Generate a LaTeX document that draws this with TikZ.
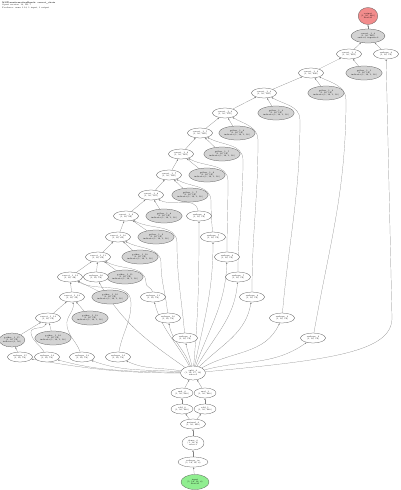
\documentclass[tikz,border=0pt]{standalone}
\usepackage{tikz}
\usepackage{xcolor}
\usetikzlibrary{positioning, arrows.meta, shapes.geometric, backgrounds}

\definecolor{paramgray}{HTML}{D3D3D3}
\definecolor{outputred}{HTML}{F28C8C}
\definecolor{inputgreen}{HTML}{90EE90}

\tikzset{
	op/.style={draw=black!70, line width=0.25pt, ellipse, fill=white, inner sep=0pt,
		minimum width=25pt, minimum height=10pt, align=center,
		font=\fontsize{2}{2.3}\selectfont},
	param/.style={op, fill=paramgray, minimum width=34pt, minimum height=14pt},
	flow/.style={draw=black!50, line width=0.2pt, -{Latex[length=1.8pt, width=1.3pt]}},
}

\begin{document}
\begin{tikzpicture}[x=1pt, y=1pt]
		\useasboundingbox (0,0) rectangle (400,-490);

		\node[anchor=north west, align=left, inner sep=0pt,
			font=\fontsize{2}{2.3}\selectfont] (title) at (2,-2)
			{\textbf{NNTransformationBench: concat\_chain}\\Opset version: 13, IR: 7\\Producer: onnx 1.14, 1 input, 1 output};

		\node[op, fill=outputred, minimum width=18pt, minimum height=17pt] (output)
			at (368,-16) {output\\(1, 16, 240)\\float32};
		\node[param] (concat-0) at (368,-36) {concat\_1\_0\\(1, 16, 240)\\axis=2, inputs=2};
		\node[op] (reshape-0) at (386,-54) {reshape\_0\\(1, 16, 16)};

		\node[op] (concat-1) at (349,-54) {concat\_1\_1\\(1, 16, 224)};
		\node[param] (gather-1) at (364,-73) {gather\_1\_1\\(1, 16, 16)\\indices=(1, 16, 1, 16)};
		\node[op] (concat-2) at (311,-73) {concat\_1\_2\\(1, 16, 208)};
		\node[param] (gather-2) at (326,-93) {gather\_1\_2\\(1, 16, 16)\\indices=(1, 16, 1, 16)};
		\node[op] (concat-3) at (264,-93) {concat\_1\_3\\(1, 16, 192)};
		\node[param] (gather-3) at (276,-113) {gather\_1\_3\\(1, 16, 16)\\indices=(1, 16, 1, 16)};
		\node[op] (concat-4) at (225,-113) {concat\_1\_4\\(1, 16, 176)};
		\node[param] (gather-4) at (237,-133) {gather\_1\_4\\(1, 16, 16)\\indices=(1, 16, 1, 16)};
		\node[op] (concat-5) at (200,-133) {concat\_1\_5\\(1, 16, 160)};
		\node[param] (gather-5) at (222,-154) {gather\_1\_5\\(1, 16, 16)\\indices=(1, 16, 1, 16)};
		\node[op] (concat-6) at (181,-154) {concat\_1\_6\\(1, 16, 144)};
		\node[param] (gather-6) at (207,-175) {gather\_1\_6\\(1, 16, 16)\\indices=(1, 16, 1, 16)};
		\node[op] (concat-7) at (169,-175) {concat\_1\_7\\(1, 16, 128)};
		\node[param] (gather-7) at (190,-195) {gather\_1\_7\\(1, 16, 16)\\indices=(1, 16, 1, 16)};
		\node[op] (concat-8) at (151,-195) {concat\_1\_8\\(1, 16, 112)};
		\node[param] (gather-8) at (164,-216) {gather\_1\_8\\(1, 16, 16)\\indices=(1, 16, 1, 16)};
		\node[op] (concat-9) at (126,-216) {concat\_1\_9\\(1, 16, 96)};
		\node[param] (gather-9) at (156,-237) {gather\_1\_9\\(1, 16, 16)\\indices=(1, 16, 1, 16)};
		\node[op] (concat-10) at (118,-237) {concat\_1\_10\\(1, 16, 80)};
		\node[param] (gather-10) at (140,-257) {gather\_1\_10\\(1, 16, 16)\\indices=(1, 16, 1, 16)};
		\node[op] (concat-11) at (98,-257) {concat\_1\_11\\(1, 16, 64)};
		\node[param] (gather-11) at (125,-277) {gather\_1\_11\\(1, 16, 16)\\indices=(1, 16, 1, 16)};
		\node[op] (concat-12) at (70,-277) {concat\_1\_12\\(1, 16, 48)};
		\node[param] (gather-12) at (110,-297) {gather\_1\_12\\(1, 16, 16)\\indices=(1, 16, 1, 16)};
		\node[op] (concat-13) at (72,-297) {concat\_1\_13\\(1, 16, 32)};
		\node[param] (gather-13) at (90,-318) {gather\_1\_13\\(1, 16, 16)\\indices=(1, 16, 1, 16)};
		\node[op] (concat-14) at (48,-318) {concat\_1\_14\\(1, 16, 16)};
		\node[param] (gather-14) at (53,-338) {gather\_1\_14\\(1, 16, 16)\\indices=(1, 16, 1, 16)};
		\node[param, minimum width=24pt] (concat-15) at (12,-340) {gather\_1\_15\\(1, 16, 16)\\indices=(1, 16)};

		\node[op] (reshape-2) at (313,-338) {reshape\_2\\(1, 16, 16)};
		\node[op] (reshape-3) at (282,-318) {reshape\_3\\(1, 16, 16)};
		\node[op] (reshape-4) at (252,-297) {reshape\_4\\(1, 16, 16)};
		\node[op] (reshape-5) at (238,-277) {reshape\_5\\(1, 16, 16)};
		\node[op] (reshape-6) at (227,-257) {reshape\_6\\(1, 16, 16)};
		\node[op] (reshape-7) at (213,-237) {reshape\_7\\(1, 16, 16)};
		\node[op] (reshape-8) at (199,-216) {reshape\_8\\(1, 16, 16)};
		\node[op] (reshape-9) at (185,-338) {reshape\_9\\(1, 16, 16)};
		\node[op] (reshape-10) at (168,-318) {reshape\_10\\(1, 16, 16)};
		\node[op] (reshape-11) at (153,-297) {reshape\_11\\(1, 16, 16)};
		\node[op] (reshape-16) at (96,-277) {reshape\_16\\(1, 16, 16)};
		\node[op] (reshape-12) at (118,-357) {reshape\_12\\(1, 16, 16)};
		\node[op] (reshape-13) at (82,-357) {reshape\_13\\(1, 16, 16)};
		\node[op] (reshape-14) at (47,-357) {reshape\_14\\(1, 16, 16)};
		\node[op] (reshape-15) at (20,-357) {reshape\_15\\(1, 16, 16)};

		\node[op, minimum height=14pt] (slice-0) at (193,-373) {split\_0\\(1, 16, 15, 16)\\axis=2};
		\node[op, minimum width=22pt] (mul-0) at (182,-393) {mul\_0\\(1, 16, 240)};
		\node[op, minimum width=22pt] (mul-1) at (205,-393) {mul\_1\\(1, 16, 240)};
		\node[op, minimum width=22pt] (add-0) at (182,-409) {add\_0\\(1, 16, 240)};
		\node[op, minimum width=22pt] (add-1) at (205,-409) {add\_1\\(1, 16, 240)};
		\node[op] (matmul-0) at (193,-424) {matmul\_0\\(1, 16, 240)};
		\node[op, minimum width=22pt, minimum height=14pt] (dense-0) at (193,-443) {dense\_0\\(1, 16, 8)\\relu=1};
		\node[op, minimum width=30pt] (reshape-in) at (193,-462) {reshape\_in\\(1, 16, 16, 8)};
		\node[op, fill=inputgreen, minimum width=28pt, minimum height=15pt] (input)
			at (195,-482) {input\\(1, 16, 16, 8)\\float32};

		\coordinate (lane-0) at (392,-318);
		\coordinate (lane-2) at (346,-100);
		\coordinate (lane-3) at (300,-120);
		\coordinate (lane-4) at (258,-140);
		\coordinate (lane-5) at (243,-160);
		\coordinate (lane-6) at (228,-181);
		\coordinate (lane-7) at (211,-201);
		\coordinate (lane-9) at (177,-243);
		\coordinate (lane-10) at (161,-263);
		\coordinate (lane-11) at (146,-283);
		\coordinate (lane-12) at (131,-303);
		\coordinate (lane-13) at (67,-326);
		\coordinate (lane-14) at (31,-333);

		\begin{scope}[on background layer]
		\draw[flow] (concat-0) -- (output);
		\draw[flow] (concat-1) -- (concat-0);
		\draw[flow] (reshape-0) -- (concat-0);

		\draw[flow] (concat-2) -- (concat-1);
		\draw[flow] (gather-1) -- (concat-1);
		\draw[flow] (concat-3) -- (concat-2);
		\draw[flow] (gather-2) -- (concat-2);
		\draw[flow] (concat-4) -- (concat-3);
		\draw[flow] (gather-3) -- (concat-3);
		\draw[flow] (concat-5) -- (concat-4);
		\draw[flow] (gather-4) -- (concat-4);
		\draw[flow] (concat-6) -- (concat-5);
		\draw[flow] (gather-5) -- (concat-5);
		\draw[flow] (concat-7) -- (concat-6);
		\draw[flow] (gather-6) -- (concat-6);
		\draw[flow] (concat-8) -- (concat-7);
		\draw[flow] (gather-7) -- (concat-7);
		\draw[flow] (concat-9) -- (concat-8);
		\draw[flow] (gather-8) -- (concat-8);
		\draw[flow] (concat-10) -- (concat-9);
		\draw[flow] (gather-9) -- (concat-9);
		\draw[flow] (concat-11) -- (concat-10);
		\draw[flow] (gather-10) -- (concat-10);
		\draw[flow] (concat-12) -- (concat-11);
		\draw[flow] (gather-11) -- (concat-11);
		\draw[flow] (concat-13) -- (concat-12);
		\draw[flow] (gather-12) -- (concat-12);
		\draw[flow] (concat-14) -- (concat-13);
		\draw[flow] (gather-13) -- (concat-13);
		\draw[flow] (concat-15) -- (concat-14);
		\draw[flow] (gather-14) -- (concat-14);

		\draw[flow] (reshape-2) to[out=80, in=-90] (lane-2) to[out=90, in=-25] (concat-2);
		\draw[flow] (reshape-3) to[out=85, in=-90] (lane-3) to[out=90, in=-30] (concat-3);
		\draw[flow] (reshape-4) to[out=90, in=-90] (lane-4) to[out=90, in=-30] (concat-4);
		\draw[flow] (reshape-5) to[out=90, in=-90] (lane-5) to[out=90, in=-30] (concat-5);
		\draw[flow] (reshape-6) to[out=90, in=-90] (lane-6) to[out=90, in=-30] (concat-6);
		\draw[flow] (reshape-7) to[out=95, in=-90] (lane-7) to[out=90, in=-30] (concat-7);
		\draw[flow] (reshape-8) to[out=100, in=-30] (concat-8);
		\draw[flow] (reshape-9) to[out=95, in=-90] (lane-9) to[out=90, in=-30] (concat-9);
		\draw[flow] (reshape-10) to[out=95, in=-90] (lane-10) to[out=90, in=-30] (concat-10);
		\draw[flow] (reshape-11) to[out=95, in=-90] (lane-11) to[out=90, in=-30] (concat-11);
		\draw[flow] (reshape-16) -- (concat-11);
		\draw[flow] (reshape-12) to[out=80, in=-90] (lane-12) to[out=90, in=-30] (concat-12);
		\draw[flow] (reshape-13) to[out=110, in=-80] (lane-13) to[out=100, in=-80] (concat-13);
		\draw[flow] (reshape-14) to[out=120, in=-80] (lane-14) to[out=100, in=-110] (concat-14);
		\draw[flow] (reshape-15) -- (concat-15);

		\draw[flow] (slice-0) .. controls (330,-360) and (392,-352) .. (lane-0) -- (reshape-0);
		\draw[flow] (slice-0) to[out=15, in=-145] (reshape-2);
		\draw[flow] (slice-0) to[out=30, in=-115] (reshape-3);
		\draw[flow] (slice-0) to[out=45, in=-100] (reshape-4);
		\draw[flow] (slice-0) to[out=60, in=-95] (reshape-5);
		\draw[flow] (slice-0) to[out=70, in=-92] (reshape-6);
		\draw[flow] (slice-0) to[out=78, in=-90] (reshape-7);
		\draw[flow] (slice-0) to[out=85, in=-90] (reshape-8);
		\draw[flow] (slice-0) to[out=100, in=-80] (reshape-9);
		\draw[flow] (slice-0) to[out=110, in=-80] (reshape-10);
		\draw[flow] (slice-0) to[out=118, in=-75] (reshape-11);
		\draw[flow] (slice-0) to[out=145, in=-60] (reshape-16);
		\draw[flow] (slice-0) to[out=170, in=-25] (reshape-12);
		\draw[flow] (slice-0) to[out=175, in=-20] (reshape-13);
		\draw[flow] (slice-0) to[out=178, in=-15] (reshape-14);
		\draw[flow] (slice-0) to[out=180, in=-10] (reshape-15);

		\draw[flow] (mul-0) -- (slice-0);
		\draw[flow] (mul-1) -- (slice-0);
		\draw[flow] (add-0) -- (mul-0);
		\draw[flow] (add-1) -- (mul-1);
		\draw[flow] (matmul-0) -- (add-0);
		\draw[flow] (matmul-0) -- (add-1);
		\draw[flow] (dense-0) -- (matmul-0);
		\draw[flow] (reshape-in) -- (dense-0);
		\draw[flow] (input) -- (reshape-in);
		\end{scope}
	\end{tikzpicture}
\end{document}
